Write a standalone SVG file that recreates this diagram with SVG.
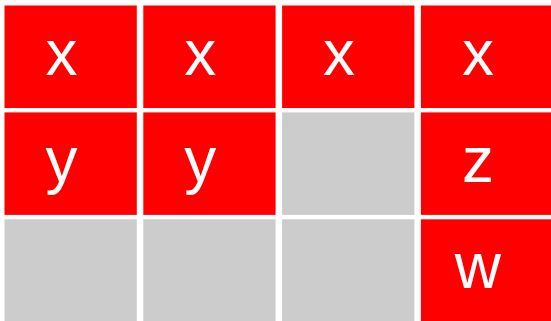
<svg xmlns="http://www.w3.org/2000/svg" width="551" height="321" viewBox="0 0 551 321">
<style>
.on{fill:#ff0000}
.off{fill:#cccccc}
text{font-family:"Liberation Sans",Arial,sans-serif;font-size:64px;fill:#ffffff;text-anchor:middle}
</style>
<rect width="551" height="321" fill="#ffffff"/>
<g id="cell-0-0"><rect class="on" x="4.5" y="5.5" width="132.3" height="102.5"/><text x="61.5" y="75">x</text></g>
<g id="cell-1-0"><rect class="on" x="143.3" y="5.5" width="132.3" height="102.5"/><text x="200.3" y="75">x</text></g>
<g id="cell-2-0"><rect class="on" x="282.1" y="5.5" width="132.3" height="102.5"/><text x="339.1" y="75">x</text></g>
<g id="cell-3-0"><rect class="on" x="420.9" y="5.5" width="132.3" height="102.5"/><text x="477.9" y="75">x</text></g>
<g id="cell-0-1"><rect class="on" x="4.5" y="112.4" width="132.3" height="102.5"/><text x="61.5" y="181.5">y</text></g>
<g id="cell-1-1"><rect class="on" x="143.3" y="112.4" width="132.3" height="102.5"/><text x="200.3" y="181.5">y</text></g>
<g id="cell-2-1"><rect class="off" x="282.1" y="112.4" width="132.3" height="102.5"/></g>
<g id="cell-3-1"><rect class="on" x="420.9" y="112.4" width="132.3" height="102.5"/><text x="477.9" y="181.5">z</text></g>
<g id="cell-0-2"><rect class="off" x="4.5" y="219.3" width="132.3" height="102.5"/></g>
<g id="cell-1-2"><rect class="off" x="143.3" y="219.3" width="132.3" height="102.5"/></g>
<g id="cell-2-2"><rect class="off" x="282.1" y="219.3" width="132.3" height="102.5"/></g>
<g id="cell-3-2"><rect class="on" x="420.9" y="219.3" width="132.3" height="102.5"/><text x="477.9" y="288.3">w</text></g>
<g id="connectors"/>
</svg>
